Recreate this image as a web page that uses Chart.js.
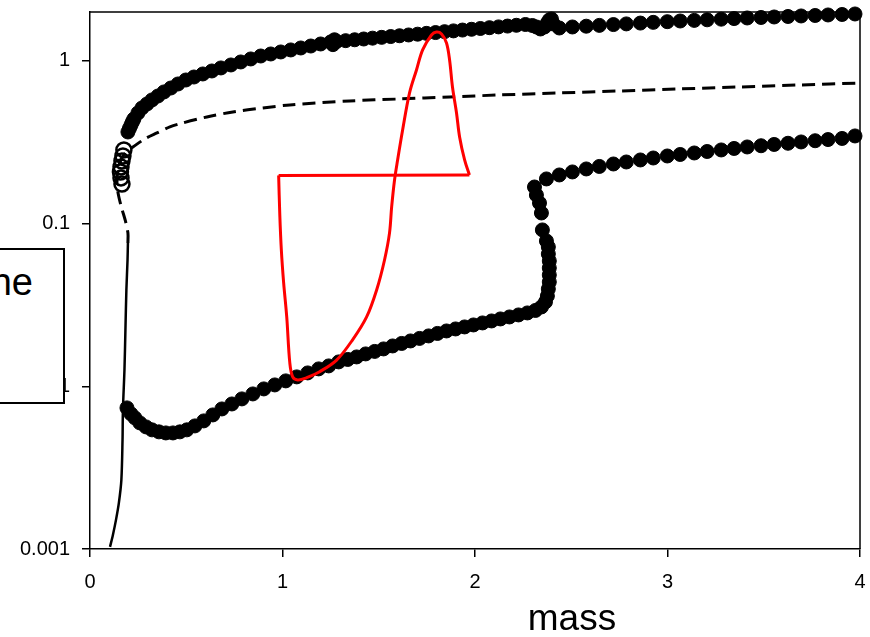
<!DOCTYPE html>
<html>
<head>
<meta charset="utf-8">
<script src="https://cdn.jsdelivr.net/npm/chart.js@4.4.1/dist/chart.umd.min.js"></script>
<style>
  body { margin: 0; background: #fff; }
  #wrap { position: relative; width: 870px; height: 637px; overflow: hidden; }
  #noteBox {
    position: absolute; left: -20px; top: 248px; width: 85px; height: 156px;
    box-sizing: border-box; border: 2px solid #000; background: #fff;
    font-family: "Liberation Sans", Arial, sans-serif; font-size: 38px; line-height: 38px;
  }
  #noteBox span { position: absolute; right: 30px; top: 13px; }
</style>
</head>
<body>
<div id="wrap">
  <canvas id="bifChart" width="870" height="637"></canvas>
  <div id="noteBox"><span>ne</span></div>
</div>
<script>
// stable branch, upper (filled dots)
const upperX = [0.197, 0.205, 0.213, 0.220, 0.228, 0.249, 0.270, 0.296, 0.322, 0.353, 0.384, 0.420, 0.457, 0.498, 0.540, 0.586,
  0.633, 0.680, 0.732, 0.783, 0.835, 0.887, 0.939, 0.991, 1.043, 1.095, 1.147, 1.198, 1.250, 1.262, 1.270,
  1.281, 1.328, 1.375, 1.422, 1.468, 1.515, 1.562, 1.608, 1.655, 1.702, 1.748, 1.795, 1.842, 1.888, 1.935, 1.982,
  2.028, 2.075, 2.122, 2.169, 2.215, 2.262,
  2.298, 2.319, 2.340, 2.361, 2.376, 2.386, 2.397, 2.407,
  2.438, 2.506, 2.578, 2.646, 2.719, 2.786, 2.859, 2.926, 2.999, 3.066, 3.139, 3.206, 3.279, 3.346, 3.414, 3.486,
  3.554, 3.626, 3.694, 3.767, 3.834, 3.907, 3.974];
const upperY = [0.366, 0.385, 0.404, 0.422, 0.440, 0.479, 0.514, 0.544, 0.576, 0.609, 0.645, 0.682, 0.722, 0.764, 0.797, 0.832,
  0.868, 0.906, 0.945, 0.986, 1.029, 1.073, 1.104, 1.136, 1.169, 1.202, 1.236, 1.272, 1.309, 1.26, 1.35,
  1.318, 1.333, 1.350, 1.365, 1.381, 1.397, 1.413, 1.429, 1.445, 1.461, 1.478, 1.495, 1.514, 1.531, 1.549, 1.566,
  1.584, 1.602, 1.620, 1.639, 1.657, 1.676,
  1.652, 1.618, 1.573, 1.618, 1.713, 1.787, 1.812, 1.688,
  1.595, 1.618, 1.636, 1.655, 1.674, 1.690, 1.710, 1.727, 1.744, 1.761, 1.776, 1.791, 1.807, 1.822, 1.838, 1.851,
  1.864, 1.877, 1.891, 1.904, 1.918, 1.931, 1.945];

// stable branch, lower and middle (filled dots)
const lowerX = [0.192, 0.213, 0.233, 0.259, 0.291, 0.322, 0.358, 0.394, 0.431, 0.467, 0.503, 0.545, 0.591, 0.638, 0.685,
  0.737, 0.789, 0.846, 0.903, 0.960, 1.017, 1.074, 1.131, 1.188, 1.240,
  1.292, 1.339, 1.385, 1.432, 1.479, 1.525, 1.572, 1.619, 1.665, 1.712, 1.759, 1.805, 1.852, 1.899, 1.946, 1.992,
  2.039, 2.086, 2.132, 2.179, 2.226, 2.272, 2.314, 2.345,
  2.366, 2.376, 2.381, 2.386, 2.386, 2.386, 2.386, 2.381, 2.381, 2.371,
  2.350, 2.345, 2.335, 2.319, 2.309,
  2.371, 2.438, 2.506, 2.578, 2.646, 2.719, 2.786, 2.859, 2.926, 2.999, 3.066, 3.139, 3.206, 3.279, 3.346, 3.414,
  3.486, 3.554, 3.626, 3.694, 3.767, 3.834, 3.907, 3.974];
const lowerY = [0.00737, 0.00677, 0.00640, 0.00596, 0.00563, 0.00540, 0.00525, 0.00517, 0.00517, 0.00525, 0.00540, 0.00571,
  0.00613, 0.00667, 0.00726, 0.00779, 0.00837, 0.00898, 0.00964, 0.0102, 0.0108, 0.01143, 0.01209, 0.0128, 0.01335,
  0.01413, 0.01463, 0.01516, 0.01582, 0.01639, 0.01698, 0.01771, 0.01835, 0.01901, 0.0197, 0.02041, 0.02114, 0.0219,
  0.02253, 0.02318, 0.02384, 0.02453, 0.02523, 0.02596, 0.0267, 0.02747, 0.02826, 0.02927, 0.03076,
  0.03302, 0.03593, 0.0397, 0.04382, 0.04839, 0.05342, 0.05898, 0.06514, 0.0719, 0.0783,
  0.0915, 0.1163, 0.134, 0.150, 0.168,
  0.1883, 0.1992, 0.2079, 0.2169, 0.2247, 0.2327, 0.2394, 0.2463, 0.2533, 0.2606, 0.2662, 0.2719, 0.2777, 0.2838,
  0.2899, 0.2961, 0.3012, 0.3068, 0.3120, 0.3178, 0.3233, 0.3288, 0.334, 0.346];

// unstable periodic orbits (open circles)
const openX = [0.176, 0.171, 0.166, 0.161, 0.158, 0.161, 0.166];
const openY = [0.284, 0.2606, 0.2428, 0.2231, 0.2079, 0.191, 0.175];

// steady state curve: solid part, then dashed part
const solidX = [0.104, 0.119, 0.135, 0.150, 0.163, 0.169, 0.171, 0.179, 0.184, 0.189, 0.195, 0.197];
const solidY = [0.00103, 0.00122, 0.00151, 0.00192, 0.00266, 0.00469, 0.00716, 0.0126, 0.0222, 0.0391, 0.0598, 0.0760];
const dashX = [0.197, 0.197, 0.184, 0.166, 0.150, 0.140, 0.145, 0.161, 0.187, 0.223, 0.285, 0.348, 0.415, 0.482, 0.607,
  0.742, 0.898, 1.038, 1.349, 1.608, 1.868, 2.127, 2.438, 2.750, 3.061, 3.372, 3.684, 4.0];
const dashY = [0.0760, 0.0877, 0.1039, 0.1231, 0.1459, 0.1729, 0.2138, 0.2463, 0.2759, 0.296, 0.332, 0.361, 0.393, 0.416,
  0.453, 0.486, 0.514, 0.537, 0.568, 0.584, 0.601, 0.618, 0.636, 0.654, 0.673, 0.692, 0.712, 0.732];

// red trajectory: straight top edge and the curved loop
const redTopX = [0.980, 1.971];
const redTopY = [0.198, 0.1992];
const redLoopX = [1.971, 1.946, 1.920, 1.904, 1.883, 1.868, 1.852, 1.826, 1.800, 1.774, 1.728, 1.696, 1.660, 1.624, 1.598,
  1.582, 1.567, 1.556, 1.530, 1.489, 1.437, 1.364, 1.281, 1.193, 1.126, 1.079, 1.053, 1.038, 1.022, 1.006, 0.994, 0.986, 0.980];
const redLoopY = [0.1992, 0.2463, 0.3411, 0.4791, 0.6921, 1.014, 1.290, 1.466, 1.507, 1.445, 1.169, 0.880, 0.636, 0.3766,
  0.2463, 0.1856, 0.1267, 0.0877, 0.0598, 0.0391, 0.0267, 0.0193, 0.0145, 0.0123, 0.0113, 0.01094, 0.01143, 0.01392,
  0.0267, 0.0432, 0.0689, 0.1131, 0.198];

const yTicks = [0.001, 0.01, 0.1, 1];
const xTitle = 'mass';

const FONT = '"Liberation Sans", Arial, sans-serif';

function pts(xs, ys) {
  return xs.map((x, i) => ({ x: x, y: ys[i] }));
}

// frame on the top and right side, plus the x axis title
const framePlugin = {
  id: 'frame',
  beforeDatasetsDraw(chart) {
    const a = chart.chartArea;
    const ctx = chart.ctx;
    ctx.save();
    ctx.strokeStyle = '#000';
    ctx.lineWidth = 1.5;
    ctx.beginPath();
    ctx.moveTo(a.left, a.top);
    ctx.lineTo(a.right, a.top);
    ctx.lineTo(a.right, a.bottom);
    ctx.stroke();
    ctx.restore();
  },
  afterDraw(chart) {
    const ctx = chart.ctx;
    ctx.save();
    ctx.fillStyle = '#000';
    ctx.font = '37px ' + FONT;
    ctx.textAlign = 'center';
    ctx.textBaseline = 'alphabetic';
    ctx.fillText(xTitle, 572, 630);
    ctx.restore();
  }
};

new Chart(document.getElementById('bifChart'), {
  type: 'scatter',
  data: {
    datasets: [
      {
        data: pts(redTopX, redTopY), showLine: true, borderColor: '#ff0000', borderWidth: 3,
        pointRadius: 0, order: 0
      },
      {
        data: pts(redLoopX, redLoopY), showLine: true, borderColor: '#ff0000', borderWidth: 3,
        pointRadius: 0, tension: 0.35, order: 0
      },
      {
        data: pts(upperX, upperY), showLine: false, pointRadius: 7, borderWidth: 1,
        backgroundColor: '#000', borderColor: '#000', clip: false, order: 1
      },
      {
        data: pts(lowerX, lowerY), showLine: false, pointRadius: 7, borderWidth: 1,
        backgroundColor: '#000', borderColor: '#000', clip: false, order: 1
      },
      {
        data: pts(openX, openY), showLine: false, pointRadius: 7.5, borderWidth: 2.5,
        backgroundColor: 'rgba(0,0,0,0)', borderColor: '#000', order: 2
      },
      {
        data: pts(dashX, dashY), showLine: true, borderColor: '#000', borderWidth: 3,
        borderDash: [13, 7], pointRadius: 0, tension: 0.3, order: 3
      },
      {
        data: pts(solidX, solidY), showLine: true, borderColor: '#000', borderWidth: 2.5,
        pointRadius: 0, tension: 0.3, order: 3
      }
    ]
  },
  options: {
    responsive: false,
    animation: false,
    devicePixelRatio: 1,
    layout: { padding: { top: 12, right: 9, left: 0, bottom: 0 } },
    plugins: { legend: { display: false }, tooltip: { enabled: false } },
    scales: {
      x: {
        type: 'linear', min: 0, max: 4,
        afterFit(scale) {
          scale.height = 88;
          scale.paddingLeft = 0;
          scale.paddingRight = 0;
        },
        ticks: { stepSize: 1, color: '#000', padding: 13, font: { family: FONT, size: 20 } },
        grid: { drawOnChartArea: false, drawTicks: true, tickLength: 8, color: '#000', lineWidth: 1.5 },
        border: { display: true, color: '#000', width: 1.5 }
      },
      y: {
        type: 'logarithmic', min: 0.001, max: 2,
        afterFit(scale) {
          scale.width = 90;
          scale.paddingTop = 0;
          scale.paddingBottom = 0;
        },
        afterBuildTicks(scale) { scale.ticks = yTicks.map(v => ({ value: v })); },
        ticks: {
          color: '#000', padding: 12, font: { family: FONT, size: 20 },
          callback: (v) => String(v)
        },
        grid: { drawOnChartArea: false, drawTicks: true, tickLength: 8, color: '#000', lineWidth: 1.5 },
        border: { display: true, color: '#000', width: 1.5 }
      }
    }
  },
  plugins: [framePlugin]
});
</script>
</body>
</html>
